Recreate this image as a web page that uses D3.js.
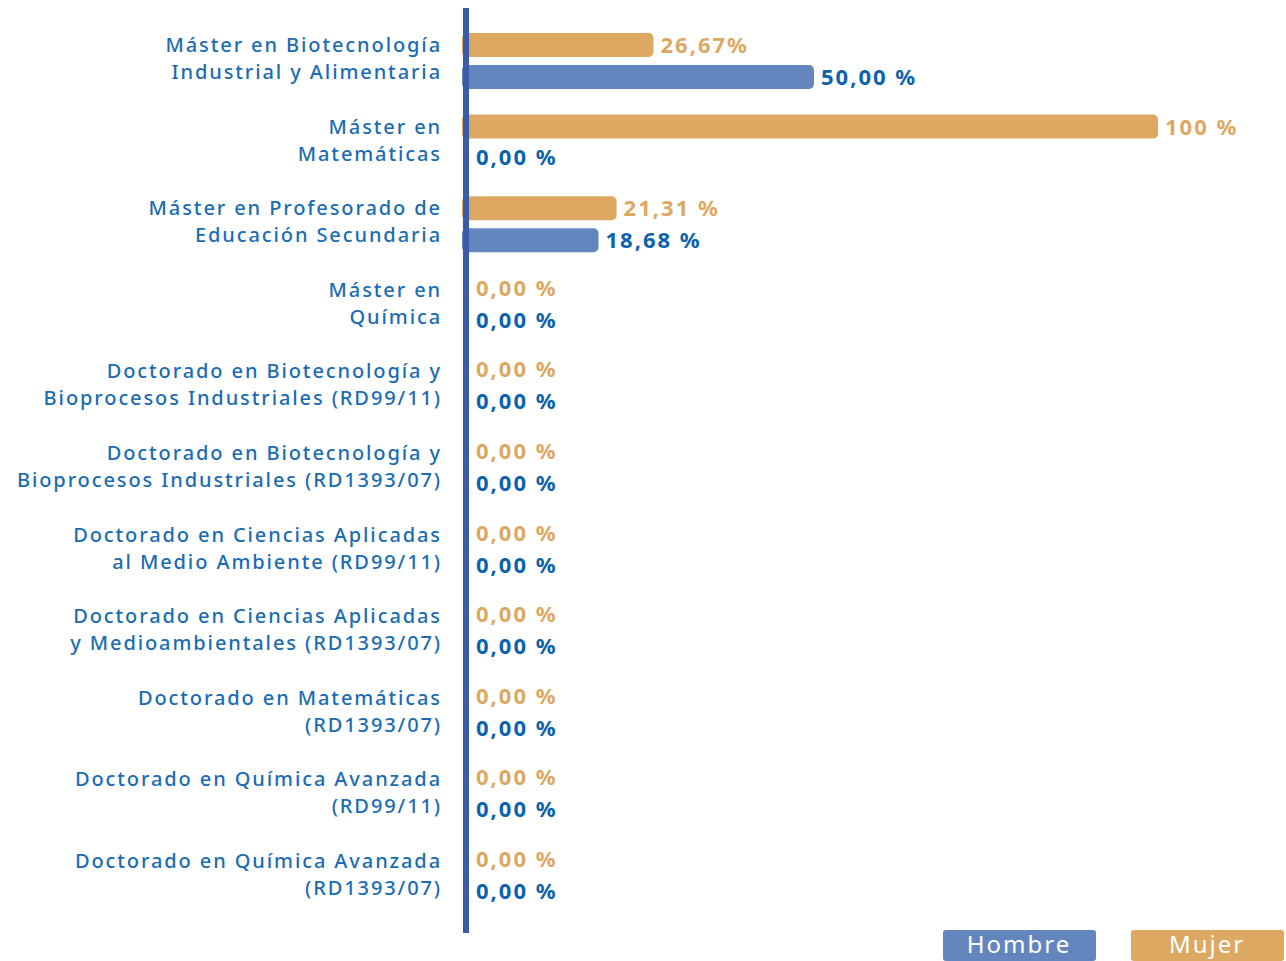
<!DOCTYPE html>
<html>
<head>
<meta charset="utf-8">
<script src="https://cdn.jsdelivr.net/npm/d3@7"></script>
<style>
  body { margin: 0; background: #fff; }
  text { font-family: "Noto Sans", sans-serif; }
</style>
</head>
<body>
<div id="chart"></div>
<script>
// data
var programas = [
  ["Máster en Biotecnología", "Industrial y Alimentaria"],
  ["Máster en", "Matemáticas"],
  ["Máster en Profesorado de", "Educación Secundaria"],
  ["Máster en", "Química"],
  ["Doctorado en Biotecnología y", "Bioprocesos Industriales (RD99/11)"],
  ["Doctorado en Biotecnología y", "Bioprocesos Industriales (RD1393/07)"],
  ["Doctorado en Ciencias Aplicadas", "al Medio Ambiente (RD99/11)"],
  ["Doctorado en Ciencias Aplicadas", "y Medioambientales (RD1393/07)"],
  ["Doctorado en Matemáticas", "(RD1393/07)"],
  ["Doctorado en Química Avanzada", "(RD99/11)"],
  ["Doctorado en Química Avanzada", "(RD1393/07)"]
];
var mujer  = [26.67, 100, 21.31, 0, 0, 0, 0, 0, 0, 0, 0];
var hombre = [50.00, 0, 18.68, 0, 0, 0, 0, 0, 0, 0, 0];
var mujerLabels  = ["26,67%", "100 %", "21,31 %", "0,00 %", "0,00 %", "0,00 %", "0,00 %", "0,00 %", "0,00 %", "0,00 %", "0,00 %"];
var hombreLabels = ["50,00 %", "0,00 %", "18,68 %", "0,00 %", "0,00 %", "0,00 %", "0,00 %", "0,00 %", "0,00 %", "0,00 %", "0,00 %"];
var series = ["Mujer", "Hombre"];

var W = 1286, H = 961;
var cMujer = "#dca862", cHombre = "#6386be";
var cMujerTxt = "#dca862", cHombreTxt = "#0b62ad", cLabel = "#1a6cb4";

var svg = d3.select("#chart").append("svg").attr("width", W).attr("height", H);

var x = d3.scaleLinear().domain([0, 100]).range([470, 1158]);
var y = d3.scaleBand().domain(d3.range(programas.length)).range([21, 21 + 11 * 81.6]);
var ySub = d3.scaleBand().domain(series).range([12, 68]).paddingInner(0.25);

var rows = svg.selectAll(".row")
  .data(programas.map(function(p, i) {
    return { nombre: p, Mujer: mujer[i], Hombre: hombre[i], lM: mujerLabels[i], lH: hombreLabels[i] };
  }))
  .enter().append("g")
  .attr("class", "row")
  .attr("transform", function(d, i) { return "translate(0," + y(i) + ")"; });

// program names
rows.append("text")
  .attr("x", 440)
  .attr("y", 24)
  .attr("text-anchor", "end")
  .attr("fill", cLabel)
  .attr("font-size", 20)
  .attr("font-weight", 500)
  .style("letter-spacing", "1.9px")
  .selectAll("tspan")
  .data(function(d) { return d.nombre; })
  .enter().append("tspan")
  .attr("x", 442)
  .attr("dy", function(d, i) { return i == 0 ? "0.35em" : 27; })
  .text(function(d) { return d; });

series.forEach(function(s) {
  var col = s == "Mujer" ? cMujer : cHombre;
  var tcol = s == "Mujer" ? cMujerTxt : cHombreTxt;
  rows.filter(function(d) { return d[s] > 0; })
    .append("rect")
    .attr("x", x(0) - 8)
    .attr("y", ySub(s))
    .attr("width", function(d) { return x(d[s]) - x(0) + 8; })
    .attr("height", ySub.bandwidth())
    .attr("rx", 5)
    .attr("fill", col);

  rows.append("text")
    .attr("x", function(d) { return d[s] > 0 ? x(d[s]) + 7 : x(0) + 6; })
    .attr("y", function(d) { return ySub(s) + ySub.bandwidth() / 2 + (d[s] > 0 ? 0 : -2); })
    .attr("dy", "0.36em")
    .attr("fill", tcol)
    .attr("font-size", 22)
    .attr("font-weight", "bold")
    .style("letter-spacing", "2px")
    .text(function(d) { return s == "Mujer" ? d.lM : d.lH; });
});

// vertical axis line
svg.append("line")
  .attr("x1", 466).attr("x2", 466)
  .attr("y1", 8).attr("y2", 933)
  .attr("stroke", "#3a5ca8")
  .attr("stroke-width", 6);

// legend
var legend = [{ name: "Hombre", col: cHombre, x: 943 }, { name: "Mujer", col: cMujer, x: 1131 }];
var lg = svg.selectAll(".leg").data(legend).enter().append("g").attr("class", "leg");
lg.append("rect")
  .attr("x", function(d) { return d.x; })
  .attr("y", 930)
  .attr("width", 153)
  .attr("height", 31)
  .attr("rx", 3)
  .attr("fill", function(d) { return d.col; });
lg.append("text")
  .attr("x", function(d) { return d.x + 76; })
  .attr("y", 944)
  .attr("dy", "0.36em")
  .attr("text-anchor", "middle")
  .attr("fill", "#fff")
  .attr("font-size", 24)
  .style("letter-spacing", "2px")
  .text(function(d) { return d.name; });
</script>
</body>
</html>
